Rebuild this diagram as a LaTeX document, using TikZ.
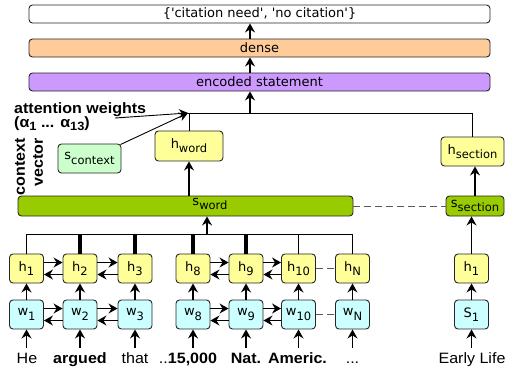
\documentclass[tikz,border=0pt]{standalone}
\usepackage{fontspec}
\setmainfont{Liberation Sans}[FakeStretch=1.07]
\newfontfamily\dvs{DejaVu Sans}
\usetikzlibrary{arrows.meta}
\definecolor{cyel}{HTML}{FFFF99}
\definecolor{ccyan}{HTML}{CCFFFF}
\definecolor{cgreen}{HTML}{99CC00}
\definecolor{clgreen}{HTML}{CCFFCC}
\definecolor{corange}{HTML}{FFCC99}
\definecolor{cpurple}{HTML}{CC99FF}
\newcommand\bsub[1]{\raisebox{-0.6ex}{\fontsize{11.5}{11.5}\selectfont #1}}
\newcommand\lsub[1]{\raisebox{-0.5ex}{\fontsize{12}{12}\selectfont #1}}
\begin{document}
\begin{tikzpicture}[x=1pt,y=-1pt,
  bx/.style={draw=black!85, rounded corners=3.5pt, line width=0.9pt, inner sep=0pt, font=\dvs\fontsize{13}{13}\selectfont},
  hb/.style={bx, fill=cyel, minimum width=34pt, minimum height=29pt},
  wb/.style={bx, fill=ccyan, minimum width=34pt, minimum height=29pt},
  arr/.style={-{Stealth[length=9pt,width=10pt,inset=3pt]}, line width=1.4pt},
  ln/.style={line width=0.9pt},
  tbar/.style={line width=4.5pt},
  dsh/.style={dash pattern=on 7pt off 4pt, line width=1pt, draw=black!65},
  word/.style={font=\fontsize{15}{15}\selectfont, inner sep=0pt, anchor=base, text height=11pt, text depth=3pt},
  bword/.style={word, font=\fontsize{15}{15}\selectfont\bfseries},
  lbl/.style={font=\fontsize{15}{15}\selectfont\bfseries, inner sep=0pt}
]
\path[use as bounding box] (0,0) rectangle (513,370);

% top stack
\node[bx, fill=white, minimum width=461pt, minimum height=18pt] (out) at (259.5,14) {\{\textquotesingle citation need\textquotesingle, \textquotesingle no citation\textquotesingle\}};
\node[bx, fill=corange, minimum width=461pt, minimum height=18pt] (dense) at (259.5,48) {dense};
\node[bx, fill=cpurple, minimum width=461pt, minimum height=18pt] (enc) at (259.5,82) {encoded statement};
\draw[arr] ([xshift=-9.5pt]dense.north) -- ([xshift=-9.5pt]out.south);
\draw[arr] ([xshift=-9.5pt]enc.north) -- ([xshift=-9.5pt]dense.south);

% attention part
\coordinate (merge) at (188,113);
\coordinate (mtop) at (250,113);
\coordinate (aw) at (115,118);
\node[lbl, anchor=base west] (attw) at (14,113) {attention weights};
\node[lbl, anchor=base west] (alph) at (14,127) {(α\lsub{1} ... α\lsub{13})};
\node[lbl, rotate=90, anchor=east] (ctx) at (20,138) {context};
\node[lbl, rotate=90, anchor=east] (vec) at (38,138) {vector};

\node[bx, fill=clgreen, minimum width=63pt, minimum height=29pt] (sctx) at (89.5,158.5) {s\bsub{context}};
\node[bx, fill=cyel, minimum width=68pt, minimum height=30pt] (hword) at (189,146) {h\bsub{word}};
\node[bx, fill=cyel, minimum width=63pt, minimum height=29pt] (hsec) at (472.5,151.5) {h\bsub{section}};
\node[bx, fill=cgreen, minimum width=335pt, minimum height=20pt] (sword) at (185.5,206) {};
\node[font=\dvs\fontsize{13}{13}\selectfont, inner sep=0pt] (swl) at (210,204) {s\bsub{word}};
\node[bx, fill=cgreen, minimum width=58pt, minimum height=20pt] (ssec) at (475,206) {s\bsub{section}};

\draw[arr] (mtop) -- (mtop |- enc.south);
\draw[ln] (hword.north) -- (hword.north |- merge);
\draw[ln] (merge) -- (hsec.north |- merge) -- (hsec.north);
\draw[line width=0.9pt, -{Stealth[length=9pt,width=9pt,inset=3pt]}] (aw) -- (merge);
\draw[line width=0.9pt, -{Stealth[length=9pt,width=9pt,inset=3pt]}] ([xshift=-1pt,yshift=-1pt]sctx.north east) -- (merge);
\draw[arr] (sword.north -| hword) -- (hword.south);
\draw[dsh] (sword.east) -- (ssec.west);
\draw[arr] (ssec.north) -- (ssec.north |- hsec.south);

% word-level rows
\foreach \n/\x/\s in {1/26.5/1, 2/80/2, 3/135/3, 8/193/8, 9/246/9, 10/298.5/10, N/352.5/N}{
  \node[hb] (h\n) at (\x,268.5) {h\bsub{\s}};
  \node[wb] (w\n) at (\x,314.5) {w\bsub{\s}};
  \draw[arr] (w\n.north) -- (h\n.south);
}
\foreach \a/\b in {1/2,2/3,8/9,9/10}{
  \draw[arr] ([yshift=6pt]h\a.east) -- ([yshift=6pt]h\b.west);
  \draw[arr] ([yshift=-6pt]h\b.west) -- ([yshift=-6pt]h\a.east);
  \draw[arr] ([yshift=6pt]w\a.east) -- ([yshift=6pt]w\b.west);
  \draw[arr] ([yshift=-6pt]w\b.west) -- ([yshift=-6pt]w\a.east);
}
\draw[dsh] (h10.east) -- (hN.west);
\draw[dsh] (w10.east) -- (wN.west);

\coordinate (hl) at (207,234);
\draw[ln] (h1.north) -- (h1.north |- hl) -- (hN.north |- hl) -- (hN.north);
\draw[ln] (h10.north) -- (h10.north |- hl);
\foreach \n in {2,3,8,9}{\draw[tbar] (h\n.north) -- (h\n.north |- hl);}
\draw[arr] (hl) -- (hl |- sword.south);

% section column
\node[hb] (hs1) at (471.5,268.5) {h\bsub{1}};
\node[wb] (ss1) at (471.5,314.5) {S\bsub{1}};
\draw[arr] (ss1.north) -- (hs1.south);
\draw[arr] (hs1.north) -- (hs1.north |- ssec.south);

% words
\node[word] (wd1) at (27,363) {He};
\node[bword] (wd2) at (80,363) {argued};
\node[word] (wd3) at (135,363) {that};
\node[word] (wd8) at (188,363) {..\textbf{15,000}};
\node[bword] (wd9) at (246,363) {Nat.};
\node[bword] (wd10) at (297.5,363) {Americ.};
\node[word] (wdN) at (352.5,363) {...};
\node[word] (wds) at (472,363) {Early Life};
\foreach \n in {1,2,3,8,9,10,N}{
  \draw[arr, shorten <=4pt] (wd\n.north -| w\n.south) -- (w\n.south);
}
\draw[arr, shorten <=4pt] (wds.north -| ss1.south) -- (ss1.south);
\end{tikzpicture}
\end{document}
